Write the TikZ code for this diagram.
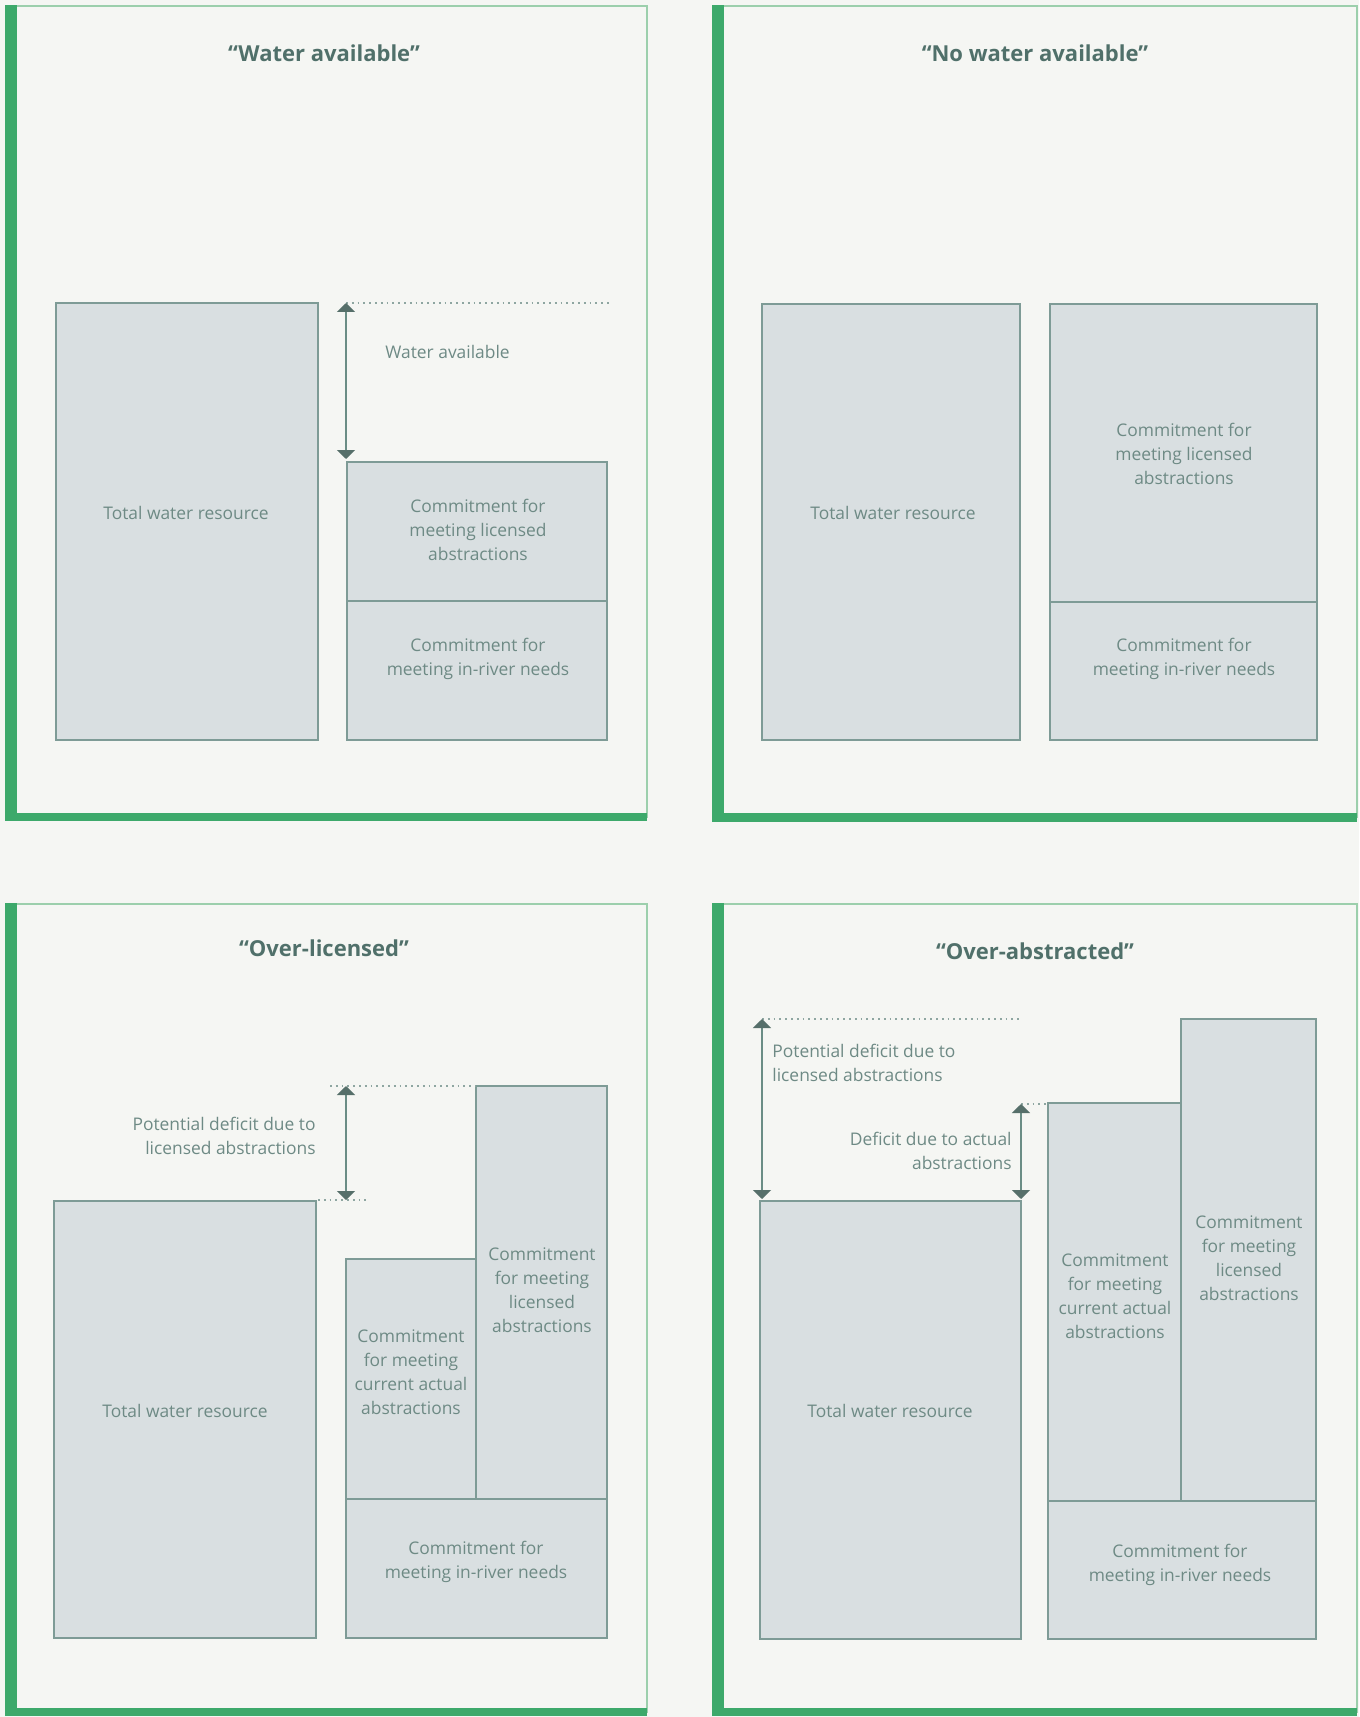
\documentclass[tikz,border=0pt]{standalone}
\usepackage{fontspec}
\setmainfont{Open Sans}
\usetikzlibrary{arrows.meta}
\definecolor{bgcol}{HTML}{F5F6F3}
\definecolor{framegreen}{HTML}{3DA96B}
\definecolor{framethin}{HTML}{9CCFAC}
\definecolor{boxfill}{HTML}{D9DFE1}
\definecolor{boxline}{HTML}{7E9B96}
\definecolor{txtcol}{HTML}{6E8A85}
\definecolor{ttlcol}{HTML}{50706A}
\definecolor{arrcol}{HTML}{6A8D85}
\definecolor{arrhead}{HTML}{566F6A}
\definecolor{dotcol}{HTML}{8EA6A1}

\begin{document}
\begin{tikzpicture}[x=0.5pt,y=-0.5pt,>={Triangle[length=4.5pt,width=9pt,color=arrhead]},
		box/.style={draw=boxline,fill=boxfill,line width=1.1pt},
		txt/.style={text=txtcol,font=\fontsize{8.7}{12}\selectfont,align=center,inner sep=0pt},
		ttl/.style={text=ttlcol,font=\fontsize{11}{13}\selectfont\bfseries,inner sep=0pt},
		gap/.style={<->,draw=arrcol,line width=1pt},
		lvl/.style={draw=dotcol,dotted,line width=0.9pt}]

	% Background
	\fill[bgcol] (0,0) rectangle (1359,1717);

	% Frames
	\draw[framethin,line width=1.2pt] (11,6) rectangle (647,817);
	\fill[framegreen] (5,5) rectangle (17,821);
	\fill[framegreen] (5,813) rectangle (647,821);

	\draw[framethin,line width=1.2pt] (718,6) rectangle (1357,817);
	\fill[framegreen] (712,5) rectangle (724,822);
	\fill[framegreen] (712,813) rectangle (1357,822);

	\draw[framethin,line width=1.2pt] (11,904) rectangle (647,1712);
	\fill[framegreen] (5,903) rectangle (17,1716);
	\fill[framegreen] (5,1708) rectangle (647,1716);

	\draw[framethin,line width=1.2pt] (718,904) rectangle (1357,1712);
	\fill[framegreen] (712,903) rectangle (724,1716);
	\fill[framegreen] (712,1708) rectangle (1357,1716);

	% a) Water available
	\node[ttl] (t1) at (324,53) {“Water available”};
	\draw[box] (56,303) rectangle (318,740);
	\draw[box] (347,462) rectangle (607,601);
	\draw[box] (347,601) rectangle (607,740);
	\node[txt] (tot1) at (186,513) {Total water resource};
	\node[txt] (lic1) at (478,530) {Commitment for\\meeting licensed\\abstractions};
	\node[txt] (riv1) at (478,659) {Commitment for\\meeting in-river needs};
	\coordinate (a1top) at (346,303);
	\coordinate (a1bot) at (346,459);
	\coordinate (d1end) at (610,303);
	\draw[lvl] (a1top) -- (d1end);
	\draw[gap] (a1top) -- (a1bot);
	\node[txt,anchor=west] (wa1) at (385,352) {Water available};

	% b) No water available
	\node[ttl] (t2) at (1035,53) {“No water available”};
	\draw[box] (762,304) rectangle (1020,740);
	\draw[box] (1050,304) rectangle (1317,602);
	\draw[box] (1050,602) rectangle (1317,740);
	\node[txt] (tot2) at (893,513) {Total water resource};
	\node[txt] (lic2) at (1184,454) {Commitment for\\meeting licensed\\abstractions};
	\node[txt] (riv2) at (1184,659) {Commitment for\\meeting in-river needs};

	% c) Over-licensed
	\node[ttl] (t3) at (324,948) {“Over-licensed”};
	\draw[box] (54,1201) rectangle (316,1638);
	\draw[box] (346,1259) rectangle (476,1499);
	\draw[box] (476,1086) rectangle (607,1499);
	\draw[box] (346,1499) rectangle (607,1638);
	\node[txt] (tot3) at (185,1411) {Total water resource};
	\node[txt] (act3) at (411,1372) {Commitment\\for meeting\\current actual\\abstractions};
	\node[txt] (lic3) at (542,1290) {Commitment\\for meeting\\licensed\\abstractions};
	\node[txt] (riv3) at (476,1562) {Commitment for\\meeting in-river needs};
	\coordinate (a3top) at (346,1086);
	\coordinate (a3bot) at (346,1200);
	\draw[lvl] (330,1086) -- (476,1086);
	\draw[lvl] (318,1200) -- (366,1200);
	\draw[gap] (a3top) -- (a3bot);
	\node[txt,anchor=east,align=right] (pd3) at (316,1136) {Potential deficit due to\\licensed abstractions};

	% d) Over-abstracted
	\node[ttl] (t4) at (1035,951) {“Over-abstracted”};
	\draw[box] (760,1201) rectangle (1021,1639);
	\draw[box] (1048,1103) rectangle (1181,1501);
	\draw[box] (1181,1019) rectangle (1316,1501);
	\draw[box] (1048,1501) rectangle (1316,1639);
	\node[txt] (tot4) at (890,1411) {Total water resource};
	\node[txt] (act4) at (1115,1296) {Commitment\\for meeting\\current actual\\abstractions};
	\node[txt] (lic4) at (1249,1258) {Commitment\\for meeting\\licensed\\abstractions};
	\node[txt] (riv4) at (1180,1565) {Commitment for\\meeting in-river needs};
	\coordinate (a4top) at (762,1019);
	\coordinate (a4bot) at (762,1199);
	\coordinate (b4top) at (1021,1104);
	\coordinate (b4bot) at (1021,1199);
	\draw[lvl] (a4top) -- (1020,1019);
	\draw[lvl] (b4top) -- (1048,1104);
	\draw[gap] (a4top) -- (a4bot);
	\draw[gap] (b4top) -- (b4bot);
	\node[txt,anchor=west,align=left] (pd4) at (772,1063) {Potential deficit due to\\licensed abstractions};
	\node[txt,anchor=east,align=right] (ad4) at (1012,1151) {Deficit due to actual\\abstractions};

\end{tikzpicture}
\end{document}
